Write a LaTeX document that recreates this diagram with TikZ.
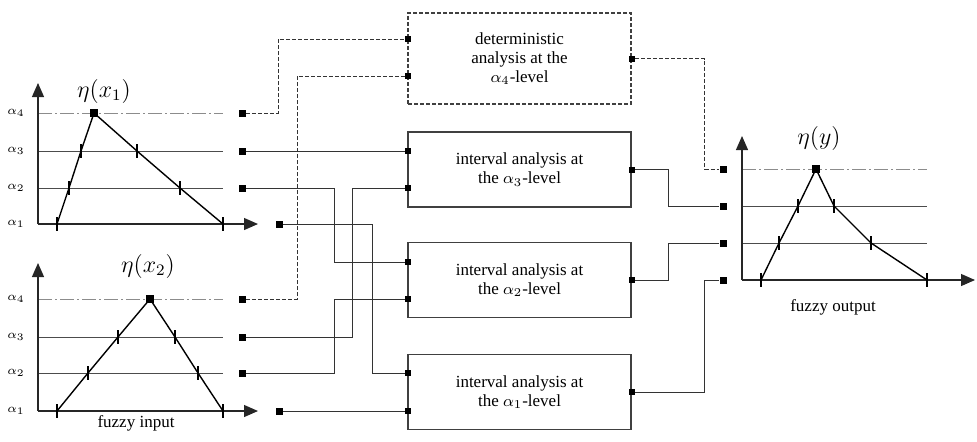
\documentclass[tikz,border=0pt]{standalone}
\usepackage{fontspec}
\setmainfont{Liberation Serif}
\usepackage{tikz}
\usetikzlibrary{arrows.meta,positioning}

\begin{document}
\begin{tikzpicture}[x=0.5pt,y=-0.5pt,
    lev/.style={black!70,line width=0.5pt},
    lev4/.style={black!45,line width=0.5pt,dash pattern=on 7pt off 1.5pt on 1pt off 1.5pt},
    axis/.style={black!85,line width=0.6pt,-{Triangle[length=7pt,width=6pt]}},
    memb/.style={black,line width=0.7pt},
    tk/.style={black,line width=1pt},
    wire/.style={black!80,line width=0.5pt},
    dwire/.style={black!80,line width=0.5pt,dash pattern=on 2pt off 1pt},
    sq/.style={fill=black,minimum size=3.5pt,inner sep=0pt},
    port/.style={fill=black,minimum size=3pt,inner sep=0pt},
    box/.style={draw=black!75,line width=0.6pt,minimum width=111.5pt,minimum height=37.5pt,
        align=center,inner sep=0pt,font=\fontsize{8.5}{9.6}\selectfont},
    lbl/.style={font=\fontsize{6.5}{7}\selectfont},
    eta/.style={font=\fontsize{11.5}{13}\selectfont},
    fuzzylbl/.style={font=\fontsize{8.5}{10}\selectfont}]
  \useasboundingbox (0,0) rectangle (977,441);

  % fuzzy input x1
  \draw[lev4] (38,113) -- (223,113);
  \draw[lev] (38,151) -- (223,151);
  \draw[lev] (38,188) -- (223,188);
  \draw[axis] (38,224) -- (38,83);
  \draw[axis] (38,224) -- (258,224);
  \draw[memb] (57,224) -- (69,188) -- (81,151) -- (94,113) -- (137,151) -- (180,188) -- (223,224);
  \foreach \p in {(57,224),(69,188),(81,151),(137,151),(180,188),(223,224)}
     \draw[tk] \p ++(0,-7) -- ++(0,14);
  \draw (94,113) node[sq,minimum size=4pt] (peak1) {};
  \draw (104,91) node[eta] (eta1) {$\eta(x_1)$};
  \draw (16,113) node[lbl] (x1l4) {$\alpha_4$};
  \draw (16,151) node[lbl] (x1l3) {$\alpha_3$};
  \draw (16,188) node[lbl] (x1l2) {$\alpha_2$};
  \draw (16,224) node[lbl] (x1l1) {$\alpha_1$};
  \draw (242,113) node[sq] (x1s4) {};
  \draw (242,151) node[sq] (x1s3) {};
  \draw (242,188) node[sq] (x1s2) {};
  \draw (279,224) node[sq] (x1s1) {};

  % fuzzy input x2
  \draw[lev4] (38,299) -- (223,299);
  \draw[lev] (38,337) -- (223,337);
  \draw[lev] (38,373) -- (223,373);
  \draw[axis] (38,411) -- (38,263);
  \draw[axis] (38,411) -- (258,411);
  \draw[memb] (57,411) -- (88,373) -- (118,337) -- (150,299) -- (175,337) -- (198,373) -- (223,411);
  \foreach \p in {(57,411),(88,373),(118,337),(175,337),(198,373),(223,411)}
     \draw[tk] \p ++(0,-7) -- ++(0,14);
  \draw (150,299) node[sq,minimum size=4pt] (peak2) {};
  \draw (148,266) node[eta] (eta2) {$\eta(x_2)$};
  \draw (16,299) node[lbl] (x2l4) {$\alpha_4$};
  \draw (16,337) node[lbl] (x2l3) {$\alpha_3$};
  \draw (16,373) node[lbl] (x2l2) {$\alpha_2$};
  \draw (16,411) node[lbl] (x2l1) {$\alpha_1$};
  \draw (242,299) node[sq] (x2s4) {};
  \draw (242,337) node[sq] (x2s3) {};
  \draw (242,373) node[sq] (x2s2) {};
  \draw (279,411) node[sq] (x2s1) {};
  \draw (136,423) node[fuzzylbl] (fin) {fuzzy input};

  % analysis boxes
  \draw (519.5,58.5) node[box,minimum height=45.5pt,dash pattern=on 2pt off 1pt] (det)
      {deterministic\\analysis at the\\$\alpha_4$-level};
  \draw (519.5,169.5) node[box] (int3) {interval analysis at\\the $\alpha_3$-level};
  \draw (519.5,280) node[box] (int2) {interval analysis at\\the $\alpha_2$-level};
  \draw (519.5,392) node[box] (int1) {interval analysis at\\the $\alpha_1$-level};
  \draw (408,39) node[port] (det-in1) {};
  \draw (408,76) node[port] (det-in2) {};
  \draw (408,151) node[port] (int3-in1) {};
  \draw (408,188) node[port] (int3-in2) {};
  \draw (408,262) node[port] (int2-in1) {};
  \draw (408,299) node[port] (int2-in2) {};
  \draw (408,373) node[port] (int1-in1) {};
  \draw (408,411) node[port] (int1-in2) {};
  \draw (det.east) node[port] (det-out) {};
  \draw (int3.east) node[port] (int3-out) {};
  \draw (int2.east) node[port] (int2-out) {};
  \draw (int1.east) node[port] (int1-out) {};

  % fuzzy output y
  \draw[lev4] (742,169) -- (927,169);
  \draw[lev] (742,206) -- (927,206);
  \draw[lev] (742,243) -- (927,243);
  \draw[axis] (742,280) -- (742,136);
  \draw[axis] (742,280) -- (975,280);
  \draw[memb] (761,280) -- (779,243) -- (798,206) -- (816,169) -- (834,206) -- (871,243) -- (927,280);
  \foreach \p in {(761,280),(779,243),(798,206),(834,206),(871,243),(927,280)}
     \draw[tk] \p ++(0,-7) -- ++(0,14);
  \draw (816,169) node[sq,minimum size=4pt] (peak3) {};
  \draw (819,138) node[eta] (eta3) {$\eta(y)$};
  \draw (723,169) node[sq] (ys4) {};
  \draw (723,206) node[sq] (ys3) {};
  \draw (723,243) node[sq] (ys2) {};
  \draw (723,280) node[sq] (ys1) {};
  \draw (833,307) node[fuzzylbl] (fout) {fuzzy output};

  % inputs to boxes
  \draw[dwire] (x1s4) -- ++(36,0) |- (det-in1);
  \draw[dwire] (x2s4) -- ++(55,0) |- (det-in2);
  \draw[wire] (x1s3) -- (int3-in1);
  \draw[wire] (x2s3) -- ++(110,0) |- (int3-in2);
  \draw[wire] (x1s2) -- ++(92,0) |- (int2-in1);
  \draw[wire] (x2s2) -- ++(92,0) |- (int2-in2);
  \draw[wire] (x1s1) -- ++(93,0) |- (int1-in1);
  \draw[wire] (x2s1) -- (int1-in2);

  % boxes to output
  \draw[dwire] (det-out) -- ++(73,0) |- (ys4);
  \draw[wire] (int3-out) -- ++(37,0) |- (ys3);
  \draw[wire] (int2-out) -- ++(37,0) |- (ys2);
  \draw[wire] (int1-out) -- ++(73,0) |- (ys1);
\end{tikzpicture}
\end{document}
